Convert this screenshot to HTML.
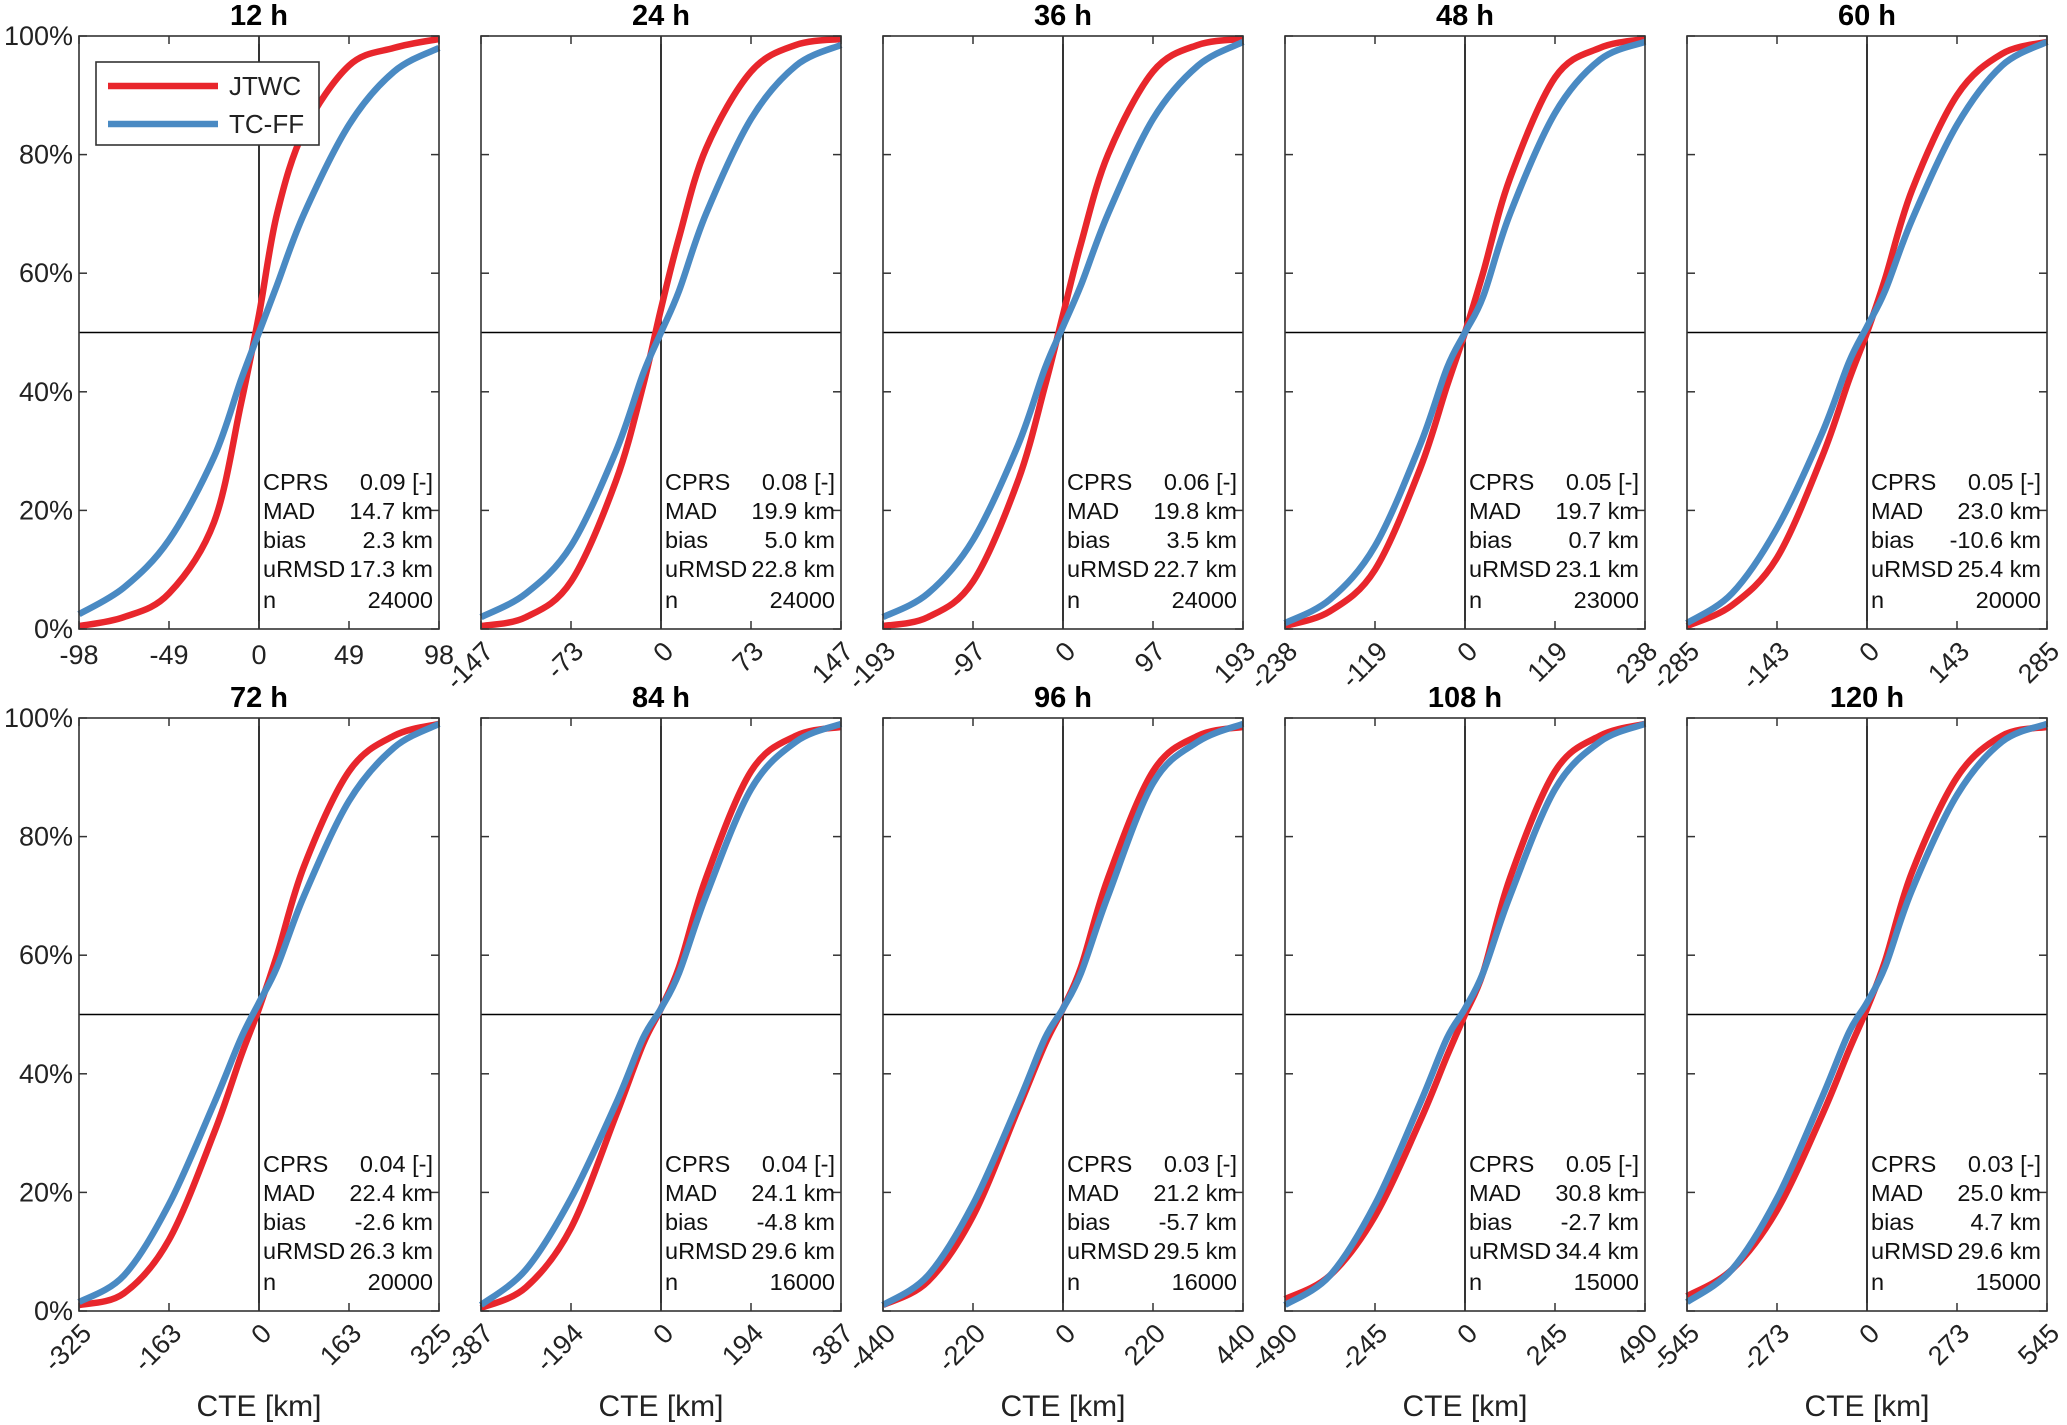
<!DOCTYPE html>
<html><head><meta charset="utf-8"><style>
html,body{margin:0;padding:0;background:#fff;}
svg{display:block;font-family:"Liberation Sans",Arial,sans-serif;}
</style></head><body>
<svg id="fig" width="2067" height="1425" viewBox="0 0 2067 1425" xmlns="http://www.w3.org/2000/svg"></svg>
<script>
const leadTimes = ["12 h","24 h","36 h","48 h","60 h","72 h","84 h","96 h","108 h","120 h"];
const xMax = [98,147,193,238,285,325,387,440,490,545];
const xTickLabels = [
 ["-98","-49","0","49","98"],["-147","-73","0","73","147"],["-193","-97","0","97","193"],
 ["-238","-119","0","119","238"],["-285","-143","0","143","285"],["-325","-163","0","163","325"],
 ["-387","-194","0","194","387"],["-440","-220","0","220","440"],["-490","-245","0","245","490"],
 ["-545","-273","0","273","545"]];
const yTicks = [0,20,40,60,80,100];
const xFrac = [-1,-0.75,-0.5,-0.25,-0.1,0,0.1,0.25,0.5,0.75,1];
const jtwc = [
 [0.5,2,6,18,38,53,70,84,95,98,99.5],
 [0.5,2,8,25,41,54,66,81,94,98.5,99.5],
 [0.5,2,8,25,41,53,65,80,94,98.5,99.5],
 [0.5,3,10,27,41,50,60,76,93,98,99.5],
 [0.5,4,12,29,42,50,59,74,90,97,99],
 [1,3,12,30,43,51,60,75,91,97,99],
 [0.5,4,14,33,45,51,58,73,91,97,98.5],
 [1,5,16,34,45,51,58,73,91,97,98.5],
 [2,6,16,32,43,50,57,73,91,97,99],
 [2.5,7,17,33,44,51,59,74,90,97,98.5]];
const tcff = [
 [2.5,7,15,29,42,50,58,70,85,94,98],
 [2,6,14,30,43,50,57,70,86,95,98.5],
 [2,6,15,31,44,51,58,70,86,95,99],
 [1,5,14,31,44,50,56,70,87,96,99],
 [1,6,17,33,45,51,57,69,85,95,99],
 [1.5,6,18,35,46,52,58,70,86,95,99],
 [1,7,19,35,46,51,57,70,88,96,99],
 [1,6,18,35,46,51,57,70,89,96,99],
 [1,6,18,35,46,51,57,70,88,96,99],
 [1.5,7,19,36,47,52,58,71,87,96,99]];
const statNames = ["CPRS","MAD","bias","uRMSD","n"];
const cprs = ["0.09 [-]","0.08 [-]","0.06 [-]","0.05 [-]","0.05 [-]","0.04 [-]","0.04 [-]","0.03 [-]","0.05 [-]","0.03 [-]"];
const mad = ["14.7 km","19.9 km","19.8 km","19.7 km","23.0 km","22.4 km","24.1 km","21.2 km","30.8 km","25.0 km"];
const bias = ["2.3 km","5.0 km","3.5 km","0.7 km","-10.6 km","-2.6 km","-4.8 km","-5.7 km","-2.7 km","4.7 km"];
const urmsd = ["17.3 km","22.8 km","22.7 km","23.1 km","25.4 km","26.3 km","29.6 km","29.5 km","34.4 km","29.6 km"];
const nObs = ["24000","24000","24000","23000","20000","20000","16000","16000","15000","15000"];

const NS="http://www.w3.org/2000/svg";
const svg=document.getElementById('fig');
function mk(tag,attrs,parent){const e=document.createElementNS(NS,tag);for(const k in attrs)e.setAttribute(k,attrs[k]);(parent||svg).appendChild(e);return e;}
const PW=360,PH=593;
const colX=[79,481,883,1285,1687];
const rowY=[36,718];
function smooth(pts){let d="M"+pts[0][0]+","+pts[0][1];
 for(let i=0;i<pts.length-1;i++){const p0=pts[Math.max(0,i-1)],p1=pts[i],p2=pts[i+1],p3=pts[Math.min(pts.length-1,i+2)];
  const c1=[p1[0]+(p2[0]-p0[0])/6,p1[1]+(p2[1]-p0[1])/6],c2=[p2[0]-(p3[0]-p1[0])/6,p2[1]-(p3[1]-p1[1])/6];
  d+=" C"+c1[0].toFixed(1)+","+c1[1].toFixed(1)+" "+c2[0].toFixed(1)+","+c2[1].toFixed(1)+" "+p2[0].toFixed(1)+","+p2[1].toFixed(1);}
 return d;}
for(let p=0;p<10;p++){
 const L=colX[p%5],T=rowY[Math.floor(p/5)],R=L+PW,B=T+PH;
 const sx=v=>L+(v+xMax[p])/(2*xMax[p])*PW;
 const sy=v=>B-v/100*PH;
 const g=mk('g',{});
 
 
 mk('rect',{x:L,y:T,width:PW,height:PH,fill:'#fff'},g);
 const cg=mk('g',{},g);
 mk('line',{x1:sx(0),x2:sx(0),y1:T,y2:B,stroke:'#000','stroke-width':1.6},cg);
 mk('line',{x1:L,x2:R,y1:sy(50),y2:sy(50),stroke:'#000','stroke-width':1.6},cg);
 const series=[[jtwc[p],'#e8262c','jtwc-curve'],[tcff[p],'#4a8ac3','tcff-curve']];
 series.forEach(s=>{const pts=xFrac.map((f,i)=>[sx(f*xMax[p]),sy(s[0][i])]);
  const path=mk('path',{d:smooth(pts),fill:'none',stroke:s[1],'stroke-width':6.5,'stroke-linejoin':'round'},g);
  
  });
 mk('rect',{x:L,y:T,width:PW,height:PH,fill:'none',stroke:'#333','stroke-width':1.6},g);
 for(let k=0;k<5;k++){const v=-xMax[p]+k*xMax[p]/2,x=sx(v);
  mk('line',{x1:x,x2:x,y1:B,y2:B-8,stroke:'#333','stroke-width':1.5},g);
  mk('line',{x1:x,x2:x,y1:T,y2:T+8,stroke:'#333','stroke-width':1.5},g);
  let t;
  if(p===0){t=mk('text',{x:x,y:B+35,'font-size':27,'text-anchor':'middle',fill:'#222'},g);}
  else{t=mk('text',{x:x+14,y:B+24,'font-size':27,'text-anchor':'end',fill:'#222',transform:'rotate(-45 '+(x+14)+' '+(B+24)+')'},g);}
  t.textContent=xTickLabels[p][k];
  
  }
 yTicks.forEach(v=>{const y=sy(v);
  mk('line',{x1:L,x2:L+8,y1:y,y2:y,stroke:'#333','stroke-width':1.5},g);
  mk('line',{x1:R,x2:R-8,y1:y,y2:y,stroke:'#333','stroke-width':1.5},g);
  if(p%5===0){const t=mk('text',{x:L-6,y:y+9,'font-size':27,'text-anchor':'end',fill:'#222'},g);t.textContent=v+'%';
   
   }});
 const tt=mk('text',{x:L+PW/2,y:T-11,'font-size':29,'font-weight':'bold','text-anchor':'middle',fill:'#000'},g);
 tt.textContent=leadTimes[p];
 
 
 const vals=[cprs[p],mad[p],bias[p],urmsd[p],nObs[p]];
 const offs=[147,118,89,60,29];
 for(let r=0;r<5;r++){const y=B-offs[r]+8;
  const a=mk('text',{x:L+184,y:y,'font-size':23.5,fill:'#111'},g);a.textContent=statNames[r];
  
  
  const b=mk('text',{x:R-6,y:y,'font-size':23.5,'text-anchor':'end',fill:'#111'},g);b.textContent=vals[r];
  
  }
 if(p>=5){const xl=mk('text',{x:L+PW/2,y:1416,'font-size':30,'text-anchor':'middle',fill:'#222'},g);xl.textContent='CTE [km]';
  
  }
}
const lg=mk('g',{});


mk('rect',{x:96,y:62,width:223,height:83,fill:'#fff',stroke:'#333','stroke-width':1.6},lg);
mk('line',{x1:108,x2:218,y1:86,y2:86,stroke:'#e8262c','stroke-width':6.5},lg);
mk('line',{x1:108,x2:218,y1:124,y2:124,stroke:'#4a8ac3','stroke-width':6.5},lg);
const l1=mk('text',{x:229,y:95,'font-size':26,fill:'#222'},lg);l1.textContent='JTWC';


const l2=mk('text',{x:229,y:133,'font-size':26,fill:'#222'},lg);l2.textContent='TC-FF';


</script>
</body></html>
